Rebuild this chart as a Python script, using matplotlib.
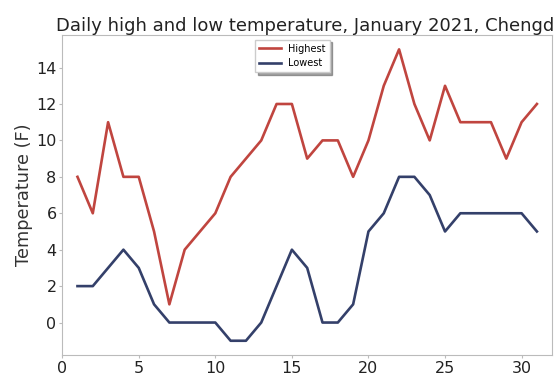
import matplotlib
matplotlib.use("Agg")
from matplotlib import pyplot as plt

# daily temperatures, January 2021, Chengdu
days = list(range(1, 32))
highs = [8, 6, 11, 8, 8, 5, 1, 4, 5, 6, 8, 9, 10, 12, 12, 9, 10, 10, 8, 10,
         13, 15, 12, 10, 13, 11, 11, 11, 9, 11, 12]
lows = [2, 2, 3, 4, 3, 1, 0, 0, 0, 0, -1, -1, 0, 2, 4, 3, 0, 0, 1, 5,
        6, 8, 8, 7, 5, 6, 6, 6, 6, 6, 5]

fig = plt.figure(figsize=(5.55, 3.78), dpi=100)
ax = fig.add_axes([0.112, 0.06, 0.883, 0.848])

ax.plot(days, highs, color="#c0453f", linewidth=1.9, label="Highest")
ax.plot(days, lows, color="#34406a", linewidth=1.9, label="Lowest")

ax.set_xlim(0, 32)
ax.set_xticks([0, 5, 10, 15, 20, 25, 30])
ax.set_yticks([0, 2, 4, 6, 8, 10, 12, 14])

ax.set_title("Daily high and low temperature, January 2021, Chengdu",
             fontsize=13, color="#222222", loc="left", x=-0.012, pad=2)
ax.set_ylabel("Temperature (F)", fontsize=12.8, color="#333333", labelpad=2)

for s in ax.spines.values():
    s.set_color("#bbbbbb")
ax.tick_params(colors="#bbbbbb", labelcolor="#222222", labelsize=11.5,
               length=2.5, pad=1.5)

leg = ax.legend(loc="upper center", bbox_to_anchor=(0.47, 1.0), fontsize=7,
                frameon=True, shadow=True, fancybox=False, handlelength=2.2)
leg.get_frame().set_edgecolor("#cccccc")

fig.savefig("out.png", dpi=100)
